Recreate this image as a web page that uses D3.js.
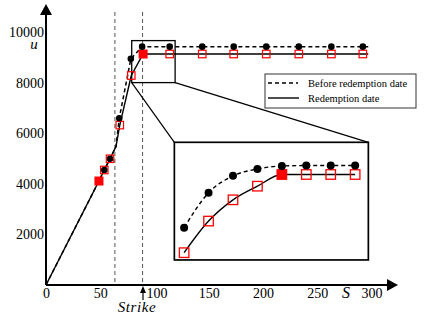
<!DOCTYPE html>
<html>
<head>
<meta charset="utf-8">
<script src="https://cdn.jsdelivr.net/npm/d3@7"></script>
<style>
  body { margin: 0; background: #fff; }
</style>
</head>
<body>
<svg></svg>
<script>
const width = 427;
const height = 319;
const serif = "'Liberation Serif', 'Times New Roman', serif";

// DATA
const xTicks = [0, 50, 100, 150, 200, 250, 300];
const yTicks = [2000, 4000, 6000, 8000, 10000];
const strikeLines = [63.5, 89];
const strike = 89.4;

// before redemption date (dashed)
const beforeLineS = [0, 48.8, 53.7, 59, 64.5, 67.5, 78.2, 88.6, 297];
const beforeLineU = [0, 4110, 4545, 4990, 5470, 6590, 8940, 9420, 9420];
const beforeDotS = [53.7, 59, 67.5, 78.2, 88.6, 114, 144, 173, 203, 233, 263, 292];
const beforeDotU = [4545, 4990, 6590, 8940, 9420, 9420, 9420, 9420, 9420, 9420, 9420, 9420];

// redemption date (solid)
const redLineS = [0, 48.8, 53.7, 59, 64.5, 68, 78.6, 89.5, 297];
const redLineU = [0, 4110, 4545, 4990, 5470, 6320, 8280, 9130, 9130];
const redSqS = [53.7, 59, 68, 78.6, 114, 144, 173, 203, 233, 263, 292];
const redSqU = [4545, 4990, 6320, 8280, 9130, 9130, 9130, 9130, 9130, 9130, 9130];
const filledSqS = [48.8, 89.5];
const filledSqU = [4110, 9130];

// zoomed region and inset
const zoomS = [79, 119];
const zoomU = [8000, 9660];
const insetFrameS = [118.3, 297.1];
const insetFrameU = [990, 5640];
const insetS = [80, 85, 90, 95, 100, 105, 110, 115];
const insetBefore = [8466, 8970, 9215, 9315, 9358, 9364, 9364, 9364];
const insetRedemption = [8105, 8562, 8869, 9066, 9235, 9235, 9235, 9235];
const insetFilled = 4;

const svg = d3.select("svg")
  .attr("width", width)
  .attr("height", height);

// SCALES
const xScale = d3.scaleLinear().domain([0, 300]).range([46, 371.5]);
const yScale = d3.scaleLinear().domain([0, 10000]).range([285, 32]);

const insetX = d3.scaleLinear()
  .domain([78, 117.7])
  .range([xScale(insetFrameS[0]), xScale(insetFrameS[1])]);
const insetY = d3.scaleLinear()
  .domain([8000, 9700])
  .range([yScale(insetFrameU[0]), yScale(insetFrameU[1])]);

const zip = (a, b) => a.map((v, i) => [v, b[i]]);

// dashed vertical lines
svg.selectAll(".vline")
  .data(strikeLines)
  .enter()
  .append("line")
    .attr("x1", d => xScale(d))
    .attr("x2", d => xScale(d))
    .attr("y1", 12)
    .attr("y2", yScale(0))
    .attr("stroke", "#555")
    .attr("stroke-width", 1)
    .attr("stroke-dasharray", "4,3");

// AXES
const xAxis = d3.axisBottom(xScale)
  .tickValues(xTicks)
  .tickFormat(d3.format("d"))
  .tickSize(0)
  .tickPadding(3);
const yAxis = d3.axisLeft(yScale)
  .tickValues(yTicks)
  .tickFormat(d3.format("d"))
  .tickSize(0)
  .tickPadding(2);

const gx = svg.append("g")
  .attr("transform", `translate(0, ${yScale(0)})`)
  .call(xAxis);
const gy = svg.append("g")
  .attr("transform", `translate(${xScale(0)}, 0)`)
  .call(yAxis);
[gx, gy].forEach(g => {
  g.select(".domain").remove();
  g.attr("font-family", serif).attr("font-size", 14);
  g.selectAll("text").attr("fill", "#000");
});
// the 100 label sits a little right of the strike arrow
gx.selectAll("text").filter(d => d === 100).attr("dx", 2);

// axis lines with arrows
svg.append("line")
  .attr("x1", xScale(0)).attr("y1", yScale(0))
  .attr("x2", 390).attr("y2", yScale(0))
  .attr("stroke", "#000").attr("stroke-width", 2);
svg.append("path")
  .attr("d", `M398,${yScale(0)} L387,${yScale(0) - 6} L387,${yScale(0) + 6} Z`)
  .attr("fill", "#000");
svg.append("line")
  .attr("x1", xScale(0)).attr("y1", yScale(0))
  .attr("x2", xScale(0)).attr("y2", 13)
  .attr("stroke", "#000").attr("stroke-width", 2);
svg.append("path")
  .attr("d", `M${xScale(0)},4 L${xScale(0) - 6},15 L${xScale(0) + 6},15 Z`)
  .attr("fill", "#000");

// axis labels
svg.append("text")
  .attr("x", 346)
  .attr("y", 298)
  .attr("text-anchor", "middle")
  .attr("font-family", serif)
  .attr("font-style", "italic")
  .attr("font-size", 16)
  .text("S");
svg.append("text")
  .attr("x", 34)
  .attr("y", 49)
  .attr("text-anchor", "middle")
  .attr("font-family", serif)
  .attr("font-style", "italic")
  .attr("font-size", 15)
  .text("u");

// strike arrow
svg.append("line")
  .attr("x1", xScale(strike)).attr("x2", xScale(strike))
  .attr("y1", 300).attr("y2", 291)
  .attr("stroke", "#000").attr("stroke-width", 1.2);
svg.append("path")
  .attr("d", `M${xScale(strike)},286 L${xScale(strike) - 3},293 L${xScale(strike) + 3},293 Z`)
  .attr("fill", "#000");
svg.append("text")
  .attr("x", 137)
  .attr("y", 312)
  .attr("text-anchor", "middle")
  .attr("font-family", serif)
  .attr("font-style", "italic")
  .attr("font-size", 15)
  .attr("letter-spacing", 0.6)
  .text("Strike");

// MAIN CURVES
const line = d3.line()
  .x(d => xScale(d[0]))
  .y(d => yScale(d[1]));

svg.append("path")
  .datum(zip(beforeLineS, beforeLineU))
  .attr("d", line)
  .attr("fill", "none")
  .attr("stroke", "#000")
  .attr("stroke-width", 1.5)
  .attr("stroke-dasharray", "4,3");

svg.append("path")
  .datum(zip(redLineS, redLineU))
  .attr("d", line)
  .attr("fill", "none")
  .attr("stroke", "#000")
  .attr("stroke-width", 1.4);

// zoom box and connectors
svg.append("rect")
  .attr("x", xScale(zoomS[0]))
  .attr("y", yScale(zoomU[1]))
  .attr("width", xScale(zoomS[1]) - xScale(zoomS[0]))
  .attr("height", yScale(zoomU[0]) - yScale(zoomU[1]))
  .attr("fill", "none")
  .attr("stroke", "#000")
  .attr("stroke-width", 1.3);

svg.selectAll(".connector")
  .data([[zoomS[0], insetFrameS[0]], [zoomS[1], insetFrameS[1]]])
  .enter()
  .append("line")
    .attr("x1", d => xScale(d[0]))
    .attr("y1", yScale(zoomU[0]))
    .attr("x2", d => xScale(d[1]))
    .attr("y2", yScale(insetFrameU[1]))
    .attr("stroke", "#000")
    .attr("stroke-width", 1.2);

// main markers
const sq = 7.5;
svg.selectAll(".sq")
  .data(zip(redSqS, redSqU))
  .enter()
  .append("rect")
    .attr("x", d => xScale(d[0]) - sq / 2)
    .attr("y", d => yScale(d[1]) - sq / 2)
    .attr("width", sq)
    .attr("height", sq)
    .attr("fill", "none")
    .attr("stroke", "#f00")
    .attr("stroke-width", 1.2);

svg.selectAll(".fsq")
  .data(zip(filledSqS, filledSqU))
  .enter()
  .append("rect")
    .attr("x", d => xScale(d[0]) - 4.5)
    .attr("y", d => yScale(d[1]) - 4.5)
    .attr("width", 9)
    .attr("height", 9)
    .attr("fill", "#f00");

svg.selectAll(".dot")
  .data(zip(beforeDotS, beforeDotU))
  .enter()
  .append("circle")
    .attr("cx", d => xScale(d[0]))
    .attr("cy", d => yScale(d[1]))
    .attr("r", 3.3)
    .attr("fill", "#000");

// INSET
svg.append("rect")
  .attr("x", xScale(insetFrameS[0]))
  .attr("y", yScale(insetFrameU[1]))
  .attr("width", xScale(insetFrameS[1]) - xScale(insetFrameS[0]))
  .attr("height", yScale(insetFrameU[0]) - yScale(insetFrameU[1]))
  .attr("fill", "#fff")
  .attr("stroke", "#000")
  .attr("stroke-width", 1.7);

const insetLine = d3.line()
  .x(d => insetX(d[0]))
  .y(d => insetY(d[1]))
  .curve(d3.curveMonotoneX);

svg.append("path")
  .datum(zip(insetS, insetBefore))
  .attr("d", insetLine)
  .attr("fill", "none")
  .attr("stroke", "#000")
  .attr("stroke-width", 1.4)
  .attr("stroke-dasharray", "4,3");

svg.append("path")
  .datum(zip(insetS, insetRedemption))
  .attr("d", insetLine)
  .attr("fill", "none")
  .attr("stroke", "#000")
  .attr("stroke-width", 1.4);

const isq = 9.5;
svg.selectAll(".isq")
  .data(zip(insetS, insetRedemption))
  .enter()
  .append("rect")
    .attr("x", d => insetX(d[0]) - isq / 2)
    .attr("y", d => insetY(d[1]) - isq / 2)
    .attr("width", isq)
    .attr("height", isq)
    .attr("fill", (d, i) => i === insetFilled ? "#f00" : "none")
    .attr("stroke", "#f00")
    .attr("stroke-width", 1.3);

svg.selectAll(".idot")
  .data(zip(insetS, insetBefore))
  .enter()
  .append("circle")
    .attr("cx", d => insetX(d[0]))
    .attr("cy", d => insetY(d[1]))
    .attr("r", 4)
    .attr("fill", "#000");

// LEGEND
const legend = svg.append("g")
  .attr("transform", "translate(265, 74)")
  .attr("font-family", serif)
  .attr("font-size", 10.5);
legend.append("rect")
  .attr("width", 151)
  .attr("height", 34)
  .attr("fill", "#fff")
  .attr("stroke", "#333")
  .attr("stroke-width", 1);
legend.append("line")
  .attr("x1", 3).attr("x2", 33).attr("y1", 9).attr("y2", 9)
  .attr("stroke", "#000").attr("stroke-width", 1.5)
  .attr("stroke-dasharray", "4,3");
legend.append("line")
  .attr("x1", 3).attr("x2", 34).attr("y1", 24).attr("y2", 24)
  .attr("stroke", "#000").attr("stroke-width", 1.4);
legend.append("text")
  .attr("x", 43).attr("y", 13)
  .text("Before redemption date");
legend.append("text")
  .attr("x", 43).attr("y", 28)
  .text("Redemption date");
</script>
</body>
</html>
